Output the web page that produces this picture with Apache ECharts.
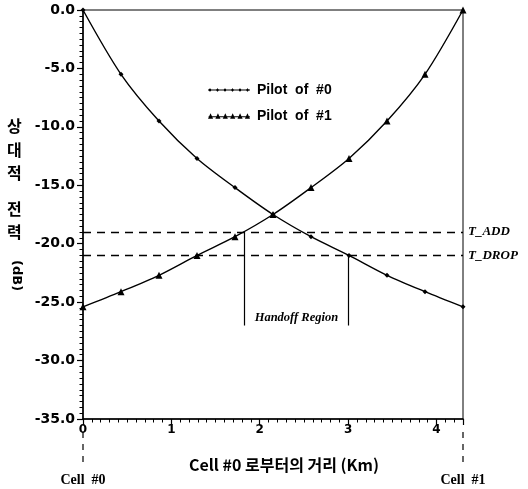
<!DOCTYPE html>
<html>
<head>
<meta charset="utf-8">
<script src="https://cdn.jsdelivr.net/npm/echarts@6/dist/echarts.min.js"></script>
<style>
  html, body { margin: 0; padding: 0; background: #fff; }
  #chart { width: 528px; height: 489px; }
</style>
</head>
<body>
<div id="chart"></div>
<script>
// Distance from cell #0 (km) at each sample point
const distanceKm = [0, 0.43, 0.86, 1.29, 1.72, 2.15, 2.58, 3.01, 3.44, 3.87, 4.30];
// Relative pilot power (dB) seen from each cell
const pilot0 = [0, -5.5, -9.5, -12.7, -15.2, -17.5, -19.4, -21.0, -22.7, -24.1, -25.4];
const pilot1 = [-25.4, -24.1, -22.7, -21.0, -19.4, -17.5, -15.2, -12.7, -9.5, -5.5, 0];
const seriesNames = ['Pilot  of  #0', 'Pilot  of  #1'];
// Handoff thresholds (dB)
const tAdd = -19;
const tDrop = -21;
const thresholdNames = ['T_ADD', 'T_DROP'];
// Handoff region boundaries (km) and the depth its markers reach (dB)
const handoffStart = 1.83;
const handoffEnd = 3.0;
const handoffBottom = -27.0;
const handoffText = 'Handoff Region';
// Axis ranges
const xMax = 4.3;
const yMin = -35;
const yMax = 0;
const xTickLabels = [0, 1, 2, 3, 4];
const cellNames = ['Cell  #0', 'Cell  #1'];

const lineIcon = (kind) => {
  let p = 'path://M0,4.4 L42,4.4 L42,5.6 L0,5.6 Z';
  const xs = [2, 9.5, 17, 24.5, 32, 39.5];
  xs.forEach(x => {
    if (kind === 'dot') {
      p += ` M${x - 1.8},5 L${x},3.2 L${x + 1.8},5 L${x},6.8 Z`;
    } else {
      p += ` M${x - 2.6},7 L${x},1.5 L${x + 2.6},7 Z`;
    }
  });
  return p;
};

const chart = echarts.init(document.getElementById('chart'));
const black = '#000';

const fineTickAxis = (extra) => Object.assign({
  type: 'value',
  axisLine: { show: false, onZero: false },
  axisTick: { show: true, length: 3.5, lineStyle: { color: black, width: 1 } },
  axisLabel: { show: false },
  splitLine: { show: false }
}, extra);

const option = {
  animation: false,
  backgroundColor: '#fff',
  grid: {
    left: 83, right: 65, top: 10, bottom: 70,
    show: true, borderColor: black, borderWidth: 1, backgroundColor: 'transparent'
  },
  legend: {
    orient: 'vertical',
    left: 203, top: 78,
    itemWidth: 42, itemHeight: 10, itemGap: 12,
    data: [
      { name: seriesNames[0], icon: lineIcon('dot') },
      { name: seriesNames[1], icon: lineIcon('tri') }
    ],
    textStyle: { fontFamily: 'Liberation Sans', fontWeight: 'bold', fontSize: 14, color: black, padding: [0, 0, 0, 2] }
  },
  xAxis: [
    {
      type: 'value', min: 0, max: xMax, interval: 1, position: 'bottom',
      axisLine: { show: true, onZero: false, lineStyle: { color: black, width: 1.5 } },
      axisTick: { show: true, length: 6, lineStyle: { color: black, width: 1.2 } },
      axisLabel: {
        margin: 5,
        color: black, fontFamily: 'DejaVu Sans', fontWeight: 'bold', fontSize: 12,
        formatter: v => (xTickLabels.includes(Math.round(v * 1000) / 1000) ? String(v) : '')
      },
      splitLine: { show: false }
    },
    fineTickAxis({ min: 0, max: xMax, interval: 0.1, position: 'bottom' })
  ],
  yAxis: [
    {
      type: 'value', min: yMin, max: yMax, interval: 5, position: 'left',
      axisLine: { show: true, onZero: false, lineStyle: { color: black, width: 1.5 } },
      axisTick: { show: true, length: 6, lineStyle: { color: black, width: 1.2 } },
      axisLabel: {
        margin: 8,
        color: black, fontFamily: 'DejaVu Sans', fontWeight: 'bold', fontSize: 14,
        formatter: v => v.toFixed(1)
      },
      splitLine: { show: false }
    },
    fineTickAxis({ min: yMin, max: yMax, interval: 0.5, position: 'left' })
  ],
  series: [
    {
      name: seriesNames[0], type: 'line', xAxisIndex: 0, yAxisIndex: 0,
      data: distanceKm.map((d, i) => [d, pilot0[i]]),
      smooth: 0.3,
      symbol: 'diamond', symbolSize: 5,
      lineStyle: { color: black, width: 1.4 },
      itemStyle: { color: black },
      markLine: {
        silent: true, symbol: 'none',
        lineStyle: { color: black, width: 1.3, type: [8, 6] },
        label: {
          show: true, position: 'end', distance: 5,
          formatter: p => p.name,
          color: black, fontFamily: 'Liberation Serif', fontStyle: 'italic', fontWeight: 'bold', fontSize: 13
        },
        data: [
          { yAxis: tAdd, name: thresholdNames[0] },
          { yAxis: tDrop, name: thresholdNames[1] }
        ]
      }
    },
    {
      name: seriesNames[1], type: 'line', xAxisIndex: 0, yAxisIndex: 0,
      data: distanceKm.map((d, i) => [d, pilot1[i]]),
      smooth: 0.3,
      symbol: 'triangle', symbolSize: 7,
      lineStyle: { color: black, width: 1.4 },
      itemStyle: { color: black },
      markLine: {
        silent: true, symbol: 'none',
        lineStyle: { color: black, width: 1.2, type: 'solid' },
        label: { show: false },
        data: [
          [{ coord: [handoffStart, tAdd] }, { coord: [handoffStart, handoffBottom] }],
          [{ coord: [handoffEnd, tDrop] }, { coord: [handoffEnd, handoffBottom] }]
        ]
      }
    }
  ]
};

chart.setOption(option);

// Text and guides placed relative to the axes
const px = (x, y) => chart.convertToPixel({ gridIndex: 0 }, [x, y]);
const [x0, yBottom] = px(0, yMin);
const [x1] = px(xMax, yMin);
const handoffMid = px((handoffStart + handoffEnd) / 2, handoffBottom);

const titleFont = '"Noto Sans CJK KR", sans-serif';
const vChars = [['상', 128], ['대', 152], ['적', 175], ['전', 211], ['력', 234]];
const graphics = vChars.map(([c, y]) => ({
  type: 'text', left: 7, top: y - 10,
  style: { text: c, fill: black, font: `bold 16px ${titleFont}` }
}));
graphics.push({
  type: 'text', x: 23, y: 260, rotation: -Math.PI / 2,
  style: { text: '(dB)', fill: black, font: 'bold 13px "DejaVu Sans"' }
});
// dashed guides under both cell positions
[x0, x1].forEach(x => {
  graphics.push({
    type: 'line', silent: true,
    shape: { x1: x, y1: yBottom + 13, x2: x, y2: yBottom + 46 },
    style: { stroke: black, lineWidth: 1.2, lineDash: [6, 6] }
  });
});
graphics.push({
  type: 'text', x: x0, y: yBottom + 61,
  style: { text: cellNames[0], fill: black, font: 'bold 14px "Liberation Serif"', textAlign: 'center', textVerticalAlign: 'middle' }
});
graphics.push({
  type: 'text', x: x1, y: yBottom + 61,
  style: { text: cellNames[1], fill: black, font: 'bold 14px "Liberation Serif"', textAlign: 'center', textVerticalAlign: 'middle' }
});
graphics.push({
  type: 'text', x: 284, y: yBottom + 46,
  style: { text: 'Cell #0 로부터의 거리 (Km)', fill: black, font: `bold 16px ${titleFont}`, textAlign: 'center', textVerticalAlign: 'middle' }
});
graphics.push({
  type: 'text', x: handoffMid[0], y: handoffMid[1] - 8,
  style: { text: handoffText, fill: black, font: 'italic bold 12.5px "Liberation Serif"', textAlign: 'center', textVerticalAlign: 'middle' }
});

chart.setOption({ graphic: graphics });
</script>
</body>
</html>
